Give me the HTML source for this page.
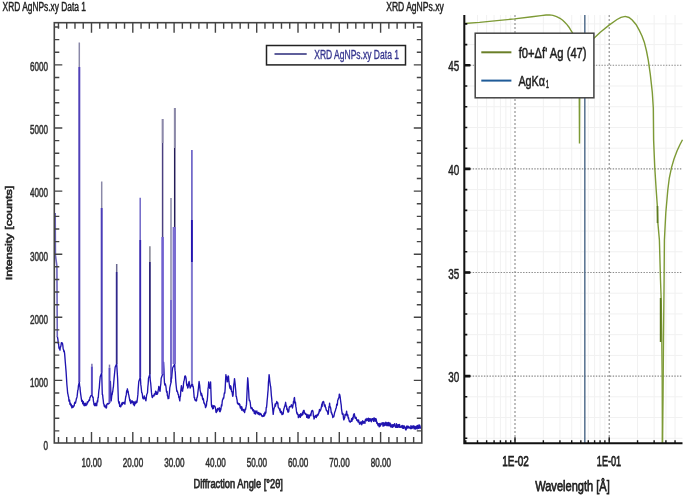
<!DOCTYPE html>
<html><head><meta charset="utf-8"><style>
html,body{margin:0;padding:0;background:#fff;width:685px;height:497px;overflow:hidden}
svg{display:block;will-change:transform;filter:blur(0.45px)}
text{font-family:"Liberation Sans",sans-serif}
</style></head><body>
<svg width="685" height="497" viewBox="0 0 685 497">
<rect width="685" height="497" fill="#fff"/>
<path d="M57.30,336.40 L57.62,337.96 L57.94,339.52 L58.26,343.78 L58.58,343.73 L58.90,347.70 L59.27,348.64 L59.63,348.76 L60.00,350.10 L60.33,346.73 L60.67,346.93 L61.00,345.30 L61.37,342.65 L61.73,343.43 L62.10,342.90 L62.47,343.31 L62.83,345.53 L63.20,349.30 L63.53,349.53 L63.87,351.67 L64.20,350.90 L64.57,353.16 L64.93,357.33 L65.30,362.20 L66.10,371.90 L66.90,384.80 L67.27,388.51 L67.63,392.99 L68.00,394.40 L68.33,396.33 L68.65,397.24 L68.97,401.18 L69.30,400.90 L69.62,400.05 L69.94,404.25 L70.26,402.94 L70.58,403.32 L70.90,405.70 L71.22,404.49 L71.54,405.57 L71.86,407.92 L72.18,405.70 L72.50,407.30 L72.84,407.31 L73.18,407.22 L73.52,405.83 L73.86,406.21 L74.20,405.70 L74.52,403.15 L74.84,402.34 L75.16,402.12 L75.48,403.22 L75.80,401.70 L76.12,400.09 L76.45,398.31 L76.77,398.07 L77.10,396.40 L77.42,393.61 L77.75,390.40 L78.08,389.78 L78.40,386.00 L79.30,382.00 L79.63,385.86 L79.97,387.11 L80.30,391.20 L80.67,394.16 L81.03,396.63 L81.40,399.20 L81.72,401.36 L82.04,401.44 L82.36,400.33 L82.68,403.76 L83.00,402.50 L83.32,401.61 L83.64,403.45 L83.96,405.45 L84.28,403.67 L84.60,405.70 L84.92,405.34 L85.24,403.22 L85.56,405.41 L85.88,405.48 L86.20,404.10 L86.54,403.93 L86.89,404.69 L87.23,401.98 L87.57,403.05 L87.91,402.19 L88.26,401.68 L88.60,400.90 L88.93,399.91 L89.27,400.63 L89.60,400.23 L89.93,397.53 L90.27,397.47 L90.60,396.00 L91.90,395.03 L92.80,397.60 L93.10,397.14 L93.40,401.01 L93.70,402.09 L94.00,404.77 L94.30,404.10 L94.60,405.59 L94.90,403.64 L95.20,404.24 L95.50,405.57 L95.80,403.19 L96.10,405.15 L96.40,404.17 L96.70,405.70 L97.02,402.55 L97.34,400.70 L97.66,401.91 L97.98,397.74 L98.30,397.60 L98.62,392.97 L98.95,389.91 L99.27,388.21 L99.60,383.10 L100.20,376.70 L101.70,372.70 L102.30,394.40 L102.62,394.66 L102.94,398.08 L103.26,400.42 L103.58,403.69 L103.90,404.10 L104.24,406.02 L104.58,406.84 L104.92,405.13 L105.26,406.32 L105.60,407.30 L105.90,406.34 L106.20,408.04 L106.50,407.93 L106.80,404.30 L107.10,404.00 L107.40,403.83 L107.70,403.43 L108.00,404.10 L109.50,402.92 L109.80,395.72 L110.10,388.99 L110.40,381.50 L111.20,400.90 L111.52,398.01 L111.84,395.04 L112.16,394.76 L112.48,392.62 L112.80,391.20 L113.12,388.25 L113.44,386.57 L113.76,382.30 L114.08,378.38 L114.40,375.10 L115.20,367.00 L116.70,363.91 L117.60,378.30 L118.40,400.90 L118.72,402.33 L119.04,403.52 L119.36,402.00 L119.68,406.34 L120.00,405.70 L120.31,406.62 L120.62,406.80 L120.94,406.29 L121.25,404.47 L121.56,404.30 L121.88,402.91 L122.19,404.84 L122.50,404.10 L122.80,402.35 L123.10,402.37 L123.40,402.94 L123.70,402.75 L124.00,403.46 L124.30,402.31 L124.60,402.10 L124.90,404.10 L125.25,400.28 L125.60,397.66 L125.95,396.28 L126.30,394.40 L126.67,390.64 L127.03,392.16 L127.40,388.80 L127.77,391.12 L128.13,391.13 L128.50,394.40 L128.82,395.03 L129.15,397.04 L129.48,398.73 L129.80,400.90 L130.14,399.62 L130.49,402.75 L130.83,403.56 L131.17,401.68 L131.51,401.98 L131.86,400.61 L132.20,402.50 L132.51,401.11 L132.82,402.27 L133.14,402.16 L133.45,404.62 L133.76,402.15 L134.07,401.79 L134.39,405.70 L134.70,404.10 L135.02,403.95 L135.33,402.15 L135.65,403.47 L135.97,401.14 L136.28,402.88 L136.60,402.50 L136.93,402.39 L137.25,399.90 L137.57,397.21 L137.90,394.40 L138.20,389.14 L138.50,385.27 L138.80,381.50 L140.20,377.50 L140.50,379.19 L140.80,384.64 L141.10,386.71 L141.40,389.60 L141.72,392.72 L142.05,392.92 L142.38,394.49 L142.70,397.60 L143.02,398.53 L143.34,398.90 L143.66,398.05 L143.98,397.54 L144.30,396.00 L144.62,398.25 L144.94,398.92 L145.26,397.85 L145.58,399.99 L145.90,400.90 L146.22,398.70 L146.54,395.78 L146.86,394.15 L147.18,393.54 L147.50,392.80 L147.83,387.00 L148.17,383.90 L148.50,378.30 L149.90,374.34 L150.30,380.72 L150.70,383.24 L151.10,388.00 L151.43,392.15 L151.75,394.75 L152.07,397.02 L152.40,397.60 L152.72,396.74 L153.04,395.84 L153.36,395.55 L153.68,395.11 L154.00,396.00 L154.32,393.86 L154.64,394.58 L154.96,394.72 L155.28,393.52 L155.60,391.20 L155.92,391.76 L156.24,393.09 L156.56,394.32 L156.88,392.10 L157.20,394.40 L157.52,393.44 L157.84,392.84 L158.16,390.73 L158.48,389.00 L158.80,386.40 L159.12,387.51 L159.45,387.51 L159.78,391.16 L160.10,391.20 L160.47,386.23 L160.83,383.80 L161.20,378.30 L162.60,374.30 L162.93,372.15 L163.27,365.82 L163.60,362.20 L163.90,368.77 L164.20,377.92 L164.50,383.10 L164.82,384.98 L165.14,383.74 L165.46,384.55 L165.78,385.62 L166.10,388.00 L166.42,391.22 L166.74,392.43 L167.06,391.38 L167.38,395.71 L167.70,396.00 L168.07,398.72 L168.43,398.23 L168.80,398.40 L169.12,394.80 L169.45,392.59 L169.78,387.92 L170.10,386.40 L171.00,382.40 L171.32,377.58 L171.64,378.52 L171.96,374.36 L172.28,370.99 L172.60,368.00 L174.70,364.00 L175.00,370.13 L175.30,372.54 L175.60,378.69 L175.90,382.90 L176.20,386.00 L176.80,391.20 L177.12,390.84 L177.45,391.81 L177.78,392.77 L178.10,394.40 L178.44,394.66 L178.78,397.35 L179.12,397.34 L179.46,399.28 L179.80,400.90 L180.12,396.36 L180.44,396.42 L180.76,391.14 L181.08,388.49 L181.40,385.60 L181.80,387.80 L182.20,390.95 L182.60,391.20 L182.90,388.46 L183.20,388.02 L183.50,383.93 L183.80,381.50 L184.12,380.51 L184.44,379.35 L184.76,376.21 L185.08,376.78 L185.40,375.90 L185.77,377.03 L186.13,378.72 L186.50,383.10 L186.82,385.52 L187.15,384.24 L187.48,386.67 L187.80,388.00 L188.12,387.28 L188.45,384.98 L188.78,382.43 L189.10,381.50 L189.47,383.74 L189.83,386.06 L190.20,388.00 L191.90,384.00 L192.20,385.94 L192.50,384.02 L192.80,386.64 L193.10,386.19 L193.40,388.00 L194.20,397.60 L194.54,397.37 L194.88,400.01 L195.22,399.61 L195.56,400.49 L195.90,400.90 L196.22,400.96 L196.54,400.59 L196.86,397.73 L197.18,397.43 L197.50,396.00 L197.82,393.12 L198.14,390.25 L198.46,388.07 L198.78,384.21 L199.10,381.50 L199.42,383.89 L199.74,385.93 L200.06,390.05 L200.38,391.34 L200.70,392.80 L201.00,394.87 L201.30,395.69 L201.60,393.52 L201.90,395.28 L202.20,395.60 L202.54,398.81 L202.88,399.84 L203.22,398.47 L203.56,399.85 L203.90,402.80 L204.22,403.53 L204.54,403.01 L204.86,404.64 L205.18,404.93 L205.50,407.60 L205.82,407.00 L206.14,406.18 L206.46,405.35 L206.78,401.10 L207.10,401.20 L207.42,398.20 L207.74,394.12 L208.06,388.19 L208.38,387.29 L208.70,381.90 L209.07,385.90 L209.43,385.05 L209.80,388.30 L210.60,381.90 L211.40,404.40 L211.72,406.85 L212.04,405.27 L212.36,406.27 L212.68,408.92 L213.00,407.60 L213.32,408.61 L213.64,405.61 L213.96,406.37 L214.28,406.38 L214.60,406.00 L214.94,406.66 L215.28,407.38 L215.62,409.17 L215.96,412.09 L216.30,412.50 L216.63,410.03 L216.97,411.62 L217.30,410.61 L217.63,408.37 L217.97,409.08 L218.30,409.20 L218.61,409.80 L218.93,409.45 L219.24,407.76 L219.55,411.54 L219.86,410.85 L220.18,411.69 L220.49,408.32 L220.80,410.00 L221.14,407.35 L221.49,404.73 L221.83,405.97 L222.17,402.22 L222.51,399.95 L222.86,399.40 L223.20,398.00 L223.52,398.67 L223.84,397.32 L224.16,394.09 L224.48,392.68 L224.80,393.10 L225.17,388.61 L225.53,381.05 L225.90,374.60 L226.22,377.23 L226.55,376.61 L226.88,378.31 L227.20,381.90 L227.52,381.23 L227.85,378.75 L228.18,375.91 L228.50,376.20 L228.87,381.45 L229.23,383.74 L229.60,386.70 L229.92,388.23 L230.24,385.67 L230.56,389.08 L230.88,386.25 L231.20,388.30 L231.52,391.37 L231.84,391.36 L232.16,392.52 L232.48,394.99 L232.80,396.40 L233.14,394.55 L233.48,388.35 L233.82,384.24 L234.16,382.27 L234.50,378.60 L234.82,381.11 L235.14,384.16 L235.46,387.93 L235.78,391.04 L236.10,396.40 L236.42,396.65 L236.74,398.53 L237.06,399.94 L237.38,403.20 L237.70,403.60 L238.00,403.16 L238.30,404.40 L238.60,403.51 L238.90,404.59 L239.20,403.67 L239.50,405.00 L239.80,404.46 L240.10,406.80 L240.40,408.03 L240.70,407.60 L241.00,406.46 L241.30,407.90 L241.60,410.04 L241.90,407.03 L242.20,410.18 L242.50,409.20 L242.80,409.14 L243.10,409.61 L243.40,411.18 L243.70,409.62 L244.00,410.29 L244.30,411.23 L244.60,412.62 L244.90,410.90 L245.22,408.97 L245.54,409.63 L245.86,407.83 L246.18,406.24 L246.50,404.40 L246.90,395.15 L247.30,386.06 L247.70,377.80 L248.02,381.07 L248.35,386.42 L248.68,391.23 L249.00,398.00 L249.32,400.56 L249.64,400.22 L249.96,401.45 L250.28,402.74 L250.60,406.00 L250.90,407.98 L251.20,408.71 L251.50,408.52 L251.80,407.58 L252.10,408.03 L252.40,408.85 L252.70,410.13 L253.00,410.90 L253.32,409.69 L253.64,411.00 L253.96,410.43 L254.28,413.39 L254.60,413.59 L254.92,412.05 L255.24,411.00 L255.56,414.04 L255.88,411.58 L256.20,412.50 L256.52,412.17 L256.84,410.98 L257.16,412.75 L257.48,413.36 L257.80,413.71 L258.12,412.74 L258.44,414.20 L258.76,412.44 L259.08,413.72 L259.40,414.90 L259.72,413.34 L260.04,414.66 L260.36,413.31 L260.68,413.31 L261.00,414.52 L261.32,414.31 L261.64,415.80 L261.96,415.66 L262.28,416.62 L262.60,415.70 L262.93,416.01 L263.26,415.92 L263.59,416.26 L263.92,413.98 L264.25,413.40 L264.58,415.72 L264.91,412.06 L265.24,414.04 L265.57,413.39 L265.90,412.50 L266.22,407.44 L266.53,407.37 L266.85,404.37 L267.17,400.08 L267.48,397.27 L267.80,393.10 L268.12,389.72 L268.45,382.41 L268.78,379.32 L269.10,374.60 L269.42,377.04 L269.74,380.78 L270.06,383.08 L270.38,385.59 L270.70,386.70 L271.02,390.58 L271.34,395.35 L271.66,398.05 L271.98,401.63 L272.30,404.40 L273.20,414.40 L273.52,411.72 L273.84,409.32 L274.16,408.13 L274.48,407.44 L274.80,406.40 L275.13,404.00 L275.47,406.11 L275.80,404.18 L276.13,403.64 L276.47,402.82 L276.80,401.50 L277.15,403.31 L277.50,403.62 L277.85,402.76 L278.20,407.02 L278.55,407.91 L278.90,408.00 L279.20,408.70 L279.50,409.51 L279.80,410.69 L280.10,409.01 L280.40,412.38 L280.70,411.12 L281.00,412.80 L281.32,411.42 L281.64,412.50 L281.96,414.68 L282.28,412.90 L282.60,414.40 L282.92,414.08 L283.24,413.74 L283.56,410.54 L283.88,408.81 L284.20,408.00 L284.55,406.49 L284.90,405.88 L285.25,404.79 L285.60,402.30 L285.93,404.59 L286.25,406.52 L286.57,406.08 L286.90,409.60 L287.22,408.67 L287.54,409.58 L287.86,412.01 L288.18,410.74 L288.50,412.00 L288.82,411.15 L289.14,407.81 L289.46,406.88 L289.78,406.60 L290.10,406.40 L290.43,406.69 L290.75,406.37 L291.07,405.90 L291.40,404.80 L291.77,405.03 L292.13,407.00 L292.50,408.00 L292.83,406.11 L293.17,404.37 L293.50,401.22 L293.83,402.57 L294.17,398.05 L294.50,397.50 L294.82,401.64 L295.15,403.70 L295.48,402.25 L295.80,406.40 L296.12,407.84 L296.44,410.88 L296.76,413.07 L297.08,412.60 L297.40,414.40 L297.72,413.95 L298.04,414.20 L298.36,417.62 L298.68,415.16 L299.00,416.80 L299.34,416.78 L299.69,414.68 L300.03,415.87 L300.37,417.24 L300.71,413.62 L301.06,416.02 L301.40,414.40 L301.70,414.13 L302.00,415.35 L302.30,414.31 L302.60,412.13 L302.90,414.49 L303.20,412.54 L303.50,410.40 L303.80,412.00 L304.12,410.49 L304.44,412.93 L304.76,413.24 L305.08,413.13 L305.40,414.40 L305.73,413.36 L306.07,414.58 L306.40,414.86 L306.73,417.36 L307.07,414.41 L307.40,416.80 L307.71,417.70 L308.02,417.96 L308.34,414.98 L308.65,418.11 L308.96,417.15 L309.27,417.81 L309.59,415.26 L309.90,416.00 L310.23,414.69 L310.56,413.97 L310.89,415.60 L311.21,413.16 L311.54,411.44 L311.87,410.91 L312.20,410.40 L312.50,410.64 L312.80,410.88 L313.10,412.24 L313.40,416.31 L313.70,415.26 L314.00,419.00 L314.30,418.40 L314.64,416.94 L314.99,416.55 L315.33,417.07 L315.67,415.33 L316.01,415.61 L316.36,417.48 L316.70,415.20 L317.00,416.34 L317.30,415.65 L317.60,414.52 L317.90,415.25 L318.20,414.96 L318.50,413.00 L318.80,413.28 L319.10,412.00 L319.45,409.53 L319.80,411.60 L320.15,409.80 L320.50,410.34 L320.85,409.24 L321.20,408.00 L321.52,406.06 L321.83,404.03 L322.15,406.46 L322.47,402.18 L322.78,402.47 L323.10,401.50 L323.44,401.53 L323.78,402.01 L324.12,404.44 L324.46,406.05 L324.80,404.80 L325.12,404.96 L325.44,407.66 L325.76,407.36 L326.08,409.51 L326.40,410.40 L326.72,410.78 L327.04,410.67 L327.36,411.45 L327.68,412.43 L328.00,414.40 L328.32,413.76 L328.64,409.87 L328.96,406.50 L329.28,406.99 L329.60,403.10 L329.92,407.03 L330.24,406.78 L330.56,407.48 L330.88,409.63 L331.20,412.80 L331.52,412.12 L331.84,414.09 L332.16,414.04 L332.48,415.60 L332.80,417.60 L333.12,415.83 L333.44,416.28 L333.76,416.75 L334.08,415.40 L334.40,413.60 L334.72,412.32 L335.03,411.39 L335.35,410.90 L335.67,409.37 L335.98,408.29 L336.30,408.00 L336.65,404.63 L337.00,403.88 L337.35,405.02 L337.70,400.04 L338.05,399.93 L338.40,398.30 L338.70,397.82 L339.00,397.75 L339.30,394.16 L339.60,394.30 L339.93,395.58 L340.25,397.69 L340.57,400.50 L340.90,403.10 L341.22,405.14 L341.54,409.44 L341.86,411.27 L342.18,413.63 L342.50,414.40 L342.82,413.45 L343.14,414.45 L343.46,418.12 L343.78,419.82 L344.10,419.20 L344.42,418.13 L344.74,417.63 L345.06,414.32 L345.38,414.93 L345.70,414.40 L346.00,415.01 L346.30,413.50 L346.60,411.10 L346.92,413.96 L347.24,415.87 L347.56,414.41 L347.88,415.30 L348.20,418.30 L348.50,417.32 L348.80,419.19 L349.10,420.23 L349.40,421.67 L349.70,421.19 L350.00,421.29 L350.30,422.16 L350.60,421.50 L350.92,421.01 L351.24,421.07 L351.56,418.70 L351.88,421.35 L352.20,419.90 L352.54,417.71 L352.88,419.34 L353.22,417.12 L353.56,414.64 L353.90,414.30 L354.22,413.61 L354.54,414.91 L354.86,417.25 L355.18,418.29 L355.50,418.30 L355.84,417.21 L356.19,417.50 L356.53,419.77 L356.87,420.46 L357.21,420.14 L357.56,419.94 L357.90,421.50 L358.22,422.06 L358.54,419.86 L358.86,421.19 L359.18,421.98 L359.50,424.14 L359.82,423.04 L360.14,424.16 L360.46,422.68 L360.78,421.88 L361.10,423.10 L361.42,422.01 L361.74,424.78 L362.06,423.68 L362.38,422.01 L362.70,420.79 L363.02,422.61 L363.34,423.24 L363.66,422.14 L363.98,421.41 L364.30,422.30 L364.62,422.65 L364.94,423.36 L365.26,420.25 L365.58,419.16 L365.90,420.05 L366.22,420.06 L366.54,420.79 L366.86,418.53 L367.18,420.61 L367.50,419.10 L367.81,420.16 L368.12,419.32 L368.44,418.22 L368.75,421.38 L369.06,418.85 L369.38,420.98 L369.69,418.72 L370.00,419.90 L370.34,418.79 L370.69,420.94 L371.03,419.08 L371.37,421.71 L371.71,419.88 L372.06,418.65 L372.40,419.90 L372.70,418.69 L373.00,419.37 L373.30,420.26 L373.60,421.30 L373.90,417.99 L374.20,418.87 L374.50,418.05 L374.80,419.10 L375.14,421.45 L375.49,418.58 L375.83,418.68 L376.17,419.17 L376.51,420.96 L376.86,423.44 L377.20,422.30 L377.50,424.25 L377.80,424.06 L378.10,425.53 L378.40,425.68 L378.70,423.68 L379.00,423.52 L379.30,426.93 L379.60,425.60 L379.91,426.46 L380.22,423.48 L380.52,425.89 L380.83,424.62 L381.14,424.48 L381.45,424.19 L381.75,423.42 L382.06,422.63 L382.37,423.61 L382.68,423.78 L382.98,426.07 L383.29,422.62 L383.60,424.00 L383.92,425.86 L384.23,422.83 L384.55,423.43 L384.86,425.29 L385.18,425.29 L385.49,423.73 L385.81,422.20 L386.12,423.89 L386.44,423.49 L386.75,425.68 L387.07,422.77 L387.38,423.46 L387.70,424.00 L388.01,425.71 L388.32,422.37 L388.62,424.01 L388.93,425.74 L389.24,425.68 L389.55,422.90 L389.85,423.00 L390.16,423.23 L390.47,426.79 L390.78,424.26 L391.08,426.34 L391.39,427.07 L391.70,425.60 L392.02,424.96 L392.34,424.69 L392.66,427.43 L392.98,426.07 L393.30,424.65 L393.62,426.47 L393.94,424.87 L394.26,424.70 L394.58,423.62 L394.90,425.60 L395.21,426.62 L395.51,427.27 L395.82,426.14 L396.12,427.37 L396.43,423.70 L396.74,424.54 L397.04,425.50 L397.35,427.43 L397.66,427.42 L397.96,425.15 L398.27,424.60 L398.57,425.32 L398.88,425.57 L399.19,427.31 L399.49,424.33 L399.80,425.60 L400.10,426.96 L400.40,426.85 L400.70,427.34 L401.00,427.29 L401.30,426.78 L401.60,425.81 L401.90,425.93 L402.20,426.25 L402.50,428.08 L402.80,425.42 L403.10,426.04 L403.40,428.41 L403.70,426.54 L404.00,425.96 L404.30,425.99 L404.60,428.00 L404.92,428.16 L405.24,427.20 L405.56,429.76 L405.88,429.32 L406.20,429.68 L406.52,426.74 L406.84,425.96 L407.16,425.96 L407.48,427.51 L407.80,428.31 L408.12,427.20 L408.44,426.30 L408.76,426.97 L409.08,427.73 L409.40,427.20 L409.71,427.90 L410.02,428.19 L410.33,428.59 L410.64,427.86 L410.95,425.68 L411.26,428.56 L411.57,426.38 L411.88,427.47 L412.19,426.69 L412.50,428.15 L412.80,426.00 L413.11,426.19 L413.42,426.18 L413.73,425.81 L414.04,428.74 L414.35,427.51 L414.66,426.51 L414.97,426.78 L415.28,429.17 L415.59,427.23 L415.90,427.20 L416.20,426.08 L416.50,428.33 L416.80,427.66 L417.10,428.96 L417.40,425.36 L417.70,426.80 L418.00,428.13 L418.30,428.16 L418.60,428.41 L418.90,424.86 L419.20,425.82 L419.50,425.08 L419.80,425.31 L420.10,428.39 L420.40,426.78 L420.70,426.40" fill="none" stroke="#2014b0" stroke-width="1.35" stroke-linejoin="round"/>
<path d="M174.30,364.00V227.00" fill="none" stroke="#7a6cd0" stroke-width="3.4"/>
<path d="M174.70,227.00V108.00" fill="none" stroke="#241c58" stroke-width="1.5"/>
<path d="M174.70,148V108.00" fill="none" stroke="#8a88a8" stroke-width="1.5"/>
<path d="M162.60,374.30V237.00" fill="none" stroke="#7060d0" stroke-width="2.6"/>
<path d="M162.60,237.00V119.00" fill="none" stroke="#4a4080" stroke-width="1.5"/>
<path d="M162.60,143V119.00" fill="none" stroke="#8a88a8" stroke-width="1.5"/>
<path d="M79.30,382.00V67.00" fill="none" stroke="#5040b8" stroke-width="2.0"/>
<path d="M79.30,67.00V42.50" fill="none" stroke="#8a88a8" stroke-width="1.5"/>
<path d="M91.90,395.03V366.38" fill="none" stroke="#5a4cc4" stroke-width="2.0"/>
<path d="M91.90,366.38V363.80" fill="none" stroke="#7a74b0" stroke-width="1.5"/>
<path d="M101.70,372.70V208.00" fill="none" stroke="#4a3cb8" stroke-width="2.0"/>
<path d="M101.70,208.00V181.50" fill="none" stroke="#8a88a8" stroke-width="1.5"/>
<path d="M109.50,402.92V367.76" fill="none" stroke="#5a4cc4" stroke-width="2.0"/>
<path d="M109.50,367.76V364.60" fill="none" stroke="#7a74b0" stroke-width="1.5"/>
<path d="M191.90,384.00V220.00" fill="none" stroke="#8078d0" stroke-width="2.0"/>
<path d="M191.90,220.00V150.00" fill="none" stroke="#5a50c0" stroke-width="1.5"/>
<path d="M191.90,220V262" fill="none" stroke="#2414b0" stroke-width="1.8"/>
<path d="M140.20,377.50V240.00" fill="none" stroke="#3828b0" stroke-width="1.9"/>
<path d="M140.20,240.00V197.70" fill="none" stroke="#7068c8" stroke-width="1.5"/>
<path d="M116.70,363.91V272.00" fill="none" stroke="#30288a" stroke-width="1.8"/>
<path d="M116.70,272.00V264.00" fill="none" stroke="#6a6890" stroke-width="1.5"/>
<path d="M149.90,374.34V262.00" fill="none" stroke="#302878" stroke-width="1.8"/>
<path d="M149.90,262.00V246.30" fill="none" stroke="#808090" stroke-width="1.5"/>
<path d="M171.00,382.40V300.00" fill="none" stroke="#3020b0" stroke-width="1.3"/>
<path d="M171.00,300.00V198.00" fill="none" stroke="#8a88a8" stroke-width="1.5"/>
<path d="M55.2,213L55.4,255L56.9,266L57.3,337" fill="none" stroke="#6c64bc" stroke-width="1.6"/>
<rect x="54.3" y="22.7" width="367.5" height="420.3" fill="none" stroke="#444" stroke-width="1.6"/>
<path d="M58.46,443.0v-6M58.46,22.7v6M66.72,443.0v-6M66.72,22.7v6M74.98,443.0v-6M74.98,22.7v6M83.24,443.0v-6M83.24,22.7v6M91.50,443.0v-11M91.50,22.7v10M99.76,443.0v-6M99.76,22.7v6M108.02,443.0v-6M108.02,22.7v6M116.28,443.0v-6M116.28,22.7v6M124.54,443.0v-6M124.54,22.7v6M132.80,443.0v-11M132.80,22.7v10M141.06,443.0v-6M141.06,22.7v6M149.32,443.0v-6M149.32,22.7v6M157.58,443.0v-6M157.58,22.7v6M165.84,443.0v-6M165.84,22.7v6M174.10,443.0v-11M174.10,22.7v10M182.36,443.0v-6M182.36,22.7v6M190.62,443.0v-6M190.62,22.7v6M198.88,443.0v-6M198.88,22.7v6M207.14,443.0v-6M207.14,22.7v6M215.40,443.0v-11M215.40,22.7v10M223.66,443.0v-6M223.66,22.7v6M231.92,443.0v-6M231.92,22.7v6M240.18,443.0v-6M240.18,22.7v6M248.44,443.0v-6M248.44,22.7v6M256.70,443.0v-11M256.70,22.7v10M264.96,443.0v-6M264.96,22.7v6M273.22,443.0v-6M273.22,22.7v6M281.48,443.0v-6M281.48,22.7v6M289.74,443.0v-6M289.74,22.7v6M298.00,443.0v-11M298.00,22.7v10M306.26,443.0v-6M306.26,22.7v6M314.52,443.0v-6M314.52,22.7v6M322.78,443.0v-6M322.78,22.7v6M331.04,443.0v-6M331.04,22.7v6M339.30,443.0v-11M339.30,22.7v10M347.56,443.0v-6M347.56,22.7v6M355.82,443.0v-6M355.82,22.7v6M364.08,443.0v-6M364.08,22.7v6M372.34,443.0v-6M372.34,22.7v6M380.60,443.0v-11M380.60,22.7v10M388.86,443.0v-6M388.86,22.7v6M397.12,443.0v-6M397.12,22.7v6M405.38,443.0v-6M405.38,22.7v6M413.64,443.0v-6M413.64,22.7v6M54.3,430.88h5M421.8,430.88h-5M54.3,418.26h5M421.8,418.26h-5M54.3,405.64h5M421.8,405.64h-5M54.3,393.02h5M421.8,393.02h-5M54.3,380.40h8M421.8,380.40h-8M54.3,367.78h5M421.8,367.78h-5M54.3,355.16h5M421.8,355.16h-5M54.3,342.54h5M421.8,342.54h-5M54.3,329.92h5M421.8,329.92h-5M54.3,317.30h8M421.8,317.30h-8M54.3,304.68h5M421.8,304.68h-5M54.3,292.06h5M421.8,292.06h-5M54.3,279.44h5M421.8,279.44h-5M54.3,266.82h5M421.8,266.82h-5M54.3,254.20h8M421.8,254.20h-8M54.3,241.58h5M421.8,241.58h-5M54.3,228.96h5M421.8,228.96h-5M54.3,216.34h5M421.8,216.34h-5M54.3,203.72h5M421.8,203.72h-5M54.3,191.10h8M421.8,191.10h-8M54.3,178.48h5M421.8,178.48h-5M54.3,165.86h5M421.8,165.86h-5M54.3,153.24h5M421.8,153.24h-5M54.3,140.62h5M421.8,140.62h-5M54.3,128.00h8M421.8,128.00h-8M54.3,115.38h5M421.8,115.38h-5M54.3,102.76h5M421.8,102.76h-5M54.3,90.14h5M421.8,90.14h-5M54.3,77.52h5M421.8,77.52h-5M54.3,64.90h8M421.8,64.90h-8M54.3,52.28h5M421.8,52.28h-5M54.3,39.66h5M421.8,39.66h-5M54.3,27.04h5M421.8,27.04h-5" stroke="#444" stroke-width="1.4" fill="none"/>
<text x="48.0" y="449.8" font-size="13" fill="#303030" stroke="#303030" stroke-width="0.55" text-anchor="end" textLength="4.5" lengthAdjust="spacingAndGlyphs" >0</text>
<text x="48.0" y="386.7" font-size="13" fill="#303030" stroke="#303030" stroke-width="0.55" text-anchor="end" textLength="18.0" lengthAdjust="spacingAndGlyphs" >1000</text>
<text x="48.0" y="323.6" font-size="13" fill="#303030" stroke="#303030" stroke-width="0.55" text-anchor="end" textLength="18.0" lengthAdjust="spacingAndGlyphs" >2000</text>
<text x="48.0" y="260.5" font-size="13" fill="#303030" stroke="#303030" stroke-width="0.55" text-anchor="end" textLength="18.0" lengthAdjust="spacingAndGlyphs" >3000</text>
<text x="48.0" y="197.4" font-size="13" fill="#303030" stroke="#303030" stroke-width="0.55" text-anchor="end" textLength="18.0" lengthAdjust="spacingAndGlyphs" >4000</text>
<text x="48.0" y="134.3" font-size="13" fill="#303030" stroke="#303030" stroke-width="0.55" text-anchor="end" textLength="18.0" lengthAdjust="spacingAndGlyphs" >5000</text>
<text x="48.0" y="71.2" font-size="13" fill="#303030" stroke="#303030" stroke-width="0.55" text-anchor="end" textLength="18.0" lengthAdjust="spacingAndGlyphs" >6000</text>
<text x="91.7" y="467.3" font-size="13" fill="#303030" stroke="#303030" stroke-width="0.55" text-anchor="middle" textLength="20.3" lengthAdjust="spacingAndGlyphs" >10.00</text>
<text x="133.0" y="467.3" font-size="13" fill="#303030" stroke="#303030" stroke-width="0.55" text-anchor="middle" textLength="20.3" lengthAdjust="spacingAndGlyphs" >20.00</text>
<text x="174.3" y="467.3" font-size="13" fill="#303030" stroke="#303030" stroke-width="0.55" text-anchor="middle" textLength="20.3" lengthAdjust="spacingAndGlyphs" >30.00</text>
<text x="215.6" y="467.3" font-size="13" fill="#303030" stroke="#303030" stroke-width="0.55" text-anchor="middle" textLength="20.3" lengthAdjust="spacingAndGlyphs" >40.00</text>
<text x="256.9" y="467.3" font-size="13" fill="#303030" stroke="#303030" stroke-width="0.55" text-anchor="middle" textLength="20.3" lengthAdjust="spacingAndGlyphs" >50.00</text>
<text x="298.2" y="467.3" font-size="13" fill="#303030" stroke="#303030" stroke-width="0.55" text-anchor="middle" textLength="20.3" lengthAdjust="spacingAndGlyphs" >60.00</text>
<text x="339.5" y="467.3" font-size="13" fill="#303030" stroke="#303030" stroke-width="0.55" text-anchor="middle" textLength="20.3" lengthAdjust="spacingAndGlyphs" >70.00</text>
<text x="380.8" y="467.3" font-size="13" fill="#303030" stroke="#303030" stroke-width="0.55" text-anchor="middle" textLength="20.3" lengthAdjust="spacingAndGlyphs" >80.00</text>
<text x="2.6" y="10.9" font-size="12" fill="#222" stroke="#222" stroke-width="0.45" text-anchor="start" textLength="83.4" lengthAdjust="spacingAndGlyphs" >XRD AgNPs.xy Data 1</text>
<text x="193.5" y="488.0" font-size="13" fill="#2a2a2a" stroke="#2a2a2a" stroke-width="0.75" text-anchor="start" textLength="89.4" lengthAdjust="spacingAndGlyphs" >Diffraction Angle [°2θ]</text>
<text transform="translate(12.4,280.3) rotate(-90) scale(1,0.72)" font-size="13.5" fill="#2a2a2a" stroke="#2a2a2a" stroke-width="0.85" textLength="94.6" lengthAdjust="spacingAndGlyphs">Intensity [counts]</text>
<rect x="266.5" y="45.5" width="139" height="19.4" fill="#fff" stroke="#222" stroke-width="1.5"/>
<path d="M274.5,54h32.2" stroke="#2a2a7a" stroke-width="1.4"/>
<text x="314.2" y="59.0" font-size="12.5" fill="#35358f" stroke="#35358f" stroke-width="0.35" text-anchor="start" textLength="84.8" lengthAdjust="spacingAndGlyphs" >XRD AgNPs.xy Data 1</text>
<path d="M465.74,15.0V443.2M477.51,15.0V443.2M486.64,15.0V443.2M494.10,15.0V443.2M500.41,15.0V443.2M505.87,15.0V443.2M510.69,15.0V443.2M543.36,15.0V443.2M559.94,15.0V443.2M571.71,15.0V443.2M580.84,15.0V443.2M588.30,15.0V443.2M594.61,15.0V443.2M600.07,15.0V443.2M604.89,15.0V443.2M637.56,15.0V443.2M654.14,15.0V443.2M665.91,15.0V443.2M675.04,15.0V443.2M464.3,438.26H682.5M464.3,417.54H682.5M464.3,396.82H682.5M464.3,355.38H682.5M464.3,334.66H682.5M464.3,313.94H682.5M464.3,293.22H682.5M464.3,251.78H682.5M464.3,231.06H682.5M464.3,210.34H682.5M464.3,189.62H682.5M464.3,148.18H682.5M464.3,127.46H682.5M464.3,106.74H682.5M464.3,86.02H682.5M464.3,44.58H682.5M464.3,23.86H682.5" stroke="#f1f1f1" stroke-width="1" fill="none"/>
<path d="M515.00,15.0V443.2M609.20,15.0V443.2" stroke="#8a8a8a" stroke-width="1.1" stroke-dasharray="2,2" fill="none"/>
<path d="M464.3,376.10H682.5M464.3,272.50H682.5M464.3,168.90H682.5M464.3,65.30H682.5" stroke="#8a8a8a" stroke-width="1.1" stroke-dasharray="1.4,1.4" fill="none"/>
<path d="M584.8,15.0V443.2" stroke="#5f7894" stroke-width="1.6"/>
<path d="M464.3,23.5 L479.5,22.4 L497,20.6 L514.5,18.9 L532,16.8 L541,15.6 L546,15.0 L549.6,14.9 L553,15.4 L556.6,16.6 L560,18.3 L562.7,20.3 L565,22.5 L567,24.6 L569,27.2 L570.6,29.9 L572.3,32.5 L574,36.5 L576,44 L578,60 L579.2,80 L579.5,143.5 L579.8,60 L582,50 L586,45 L590,40.5 L594,38.2 L600,32.5 L609.1,25.1 L617,19.5 L621,17.3 L625.2,16.4 L629,17.5 L632.2,20 L636,24.5 L639.2,30.1 L642,36 L644.3,42.2 L646.5,51 L648.3,60.3 L650.3,74.3 L652.3,92.4 L653.3,108 L653.6,140 L654.8,168 L656.2,190 L657.4,207 L657.8,222 L659.4,240 L660.5,280 L661.2,300 L661.8,340 L662.2,380 L662.4,443" fill="none" stroke="#7d9a35" stroke-width="1.4"/>
<path d="M662.5,443 L663.0,400 L663.5,340 L664.1,280 L664.4,240 L665.8,212.7 L667.8,190 L669.3,178 L671.5,167.6 L674,159 L677.1,150.7 L680,144.5 L682.5,139.7" fill="none" stroke="#7d9a35" stroke-width="1.4"/>
<path d="M657.5,206V223M660.6,298V342" stroke="#5d7a20" stroke-width="1.6"/>
<path d="M464.3,15.0V443.2H682.5" stroke="#111" stroke-width="2" fill="none"/>
<path d="M464.3,438.26h3M464.3,417.54h3M464.3,396.82h3M464.3,376.10h6M464.3,355.38h3M464.3,334.66h3M464.3,313.94h3M464.3,293.22h3M464.3,272.50h6M464.3,251.78h3M464.3,231.06h3M464.3,210.34h3M464.3,189.62h3M464.3,168.90h6M464.3,148.18h3M464.3,127.46h3M464.3,106.74h3M464.3,86.02h3M464.3,65.30h6M464.3,44.58h3M464.3,23.86h3" stroke="#111" stroke-width="1.6" fill="none"/>
<path d="M464.3,376.10h6M464.3,272.50h6M464.3,168.90h6M464.3,65.30h6" stroke="#111" stroke-width="2.6" fill="none"/>
<path d="M465.74,443.2v-3M477.51,443.2v-3M486.64,443.2v-3M494.10,443.2v-3M500.41,443.2v-3M505.87,443.2v-3M510.69,443.2v-3M515.00,443.2v-6M543.36,443.2v-3M559.94,443.2v-3M571.71,443.2v-3M580.84,443.2v-3M588.30,443.2v-3M594.61,443.2v-3M600.07,443.2v-3M604.89,443.2v-3M609.20,443.2v-6M637.56,443.2v-3M654.14,443.2v-3M665.91,443.2v-3M675.04,443.2v-3" stroke="#111" stroke-width="1.4" fill="none"/>
<text x="459.2" y="382.1" font-size="15.5" fill="#1e1e1e" stroke="#1e1e1e" stroke-width="0.5" text-anchor="end" textLength="11" lengthAdjust="spacingAndGlyphs" >30</text>
<text x="459.2" y="278.5" font-size="15.5" fill="#1e1e1e" stroke="#1e1e1e" stroke-width="0.5" text-anchor="end" textLength="11" lengthAdjust="spacingAndGlyphs" >35</text>
<text x="459.2" y="174.9" font-size="15.5" fill="#1e1e1e" stroke="#1e1e1e" stroke-width="0.5" text-anchor="end" textLength="11" lengthAdjust="spacingAndGlyphs" >40</text>
<text x="459.2" y="71.3" font-size="15.5" fill="#1e1e1e" stroke="#1e1e1e" stroke-width="0.5" text-anchor="end" textLength="11" lengthAdjust="spacingAndGlyphs" >45</text>
<text x="502.2" y="466.0" font-size="15.5" fill="#1e1e1e" stroke="#1e1e1e" stroke-width="0.75" text-anchor="start" textLength="26.6" lengthAdjust="spacingAndGlyphs" >1E-02</text>
<text x="596.8" y="466.0" font-size="15.5" fill="#1e1e1e" stroke="#1e1e1e" stroke-width="0.75" text-anchor="start" textLength="24.4" lengthAdjust="spacingAndGlyphs" >1E-01</text>
<text x="535.2" y="491.0" font-size="15.5" fill="#1e1e1e" stroke="#1e1e1e" stroke-width="0.75" text-anchor="start" textLength="74.6" lengthAdjust="spacingAndGlyphs" >Wavelength [Å]</text>
<text x="386.2" y="10.9" font-size="12" fill="#222" stroke="#222" stroke-width="0.45" text-anchor="start" textLength="57.5" lengthAdjust="spacingAndGlyphs" >XRD AgNPs.xy</text>
<rect x="475.2" y="33.2" width="118.7" height="64.6" fill="#fff" stroke="#444" stroke-width="1.5"/>
<path d="M481.3,52.3H511.4" stroke="#6a7f28" stroke-width="2"/>
<path d="M481.3,80.6H511.4" stroke="#1f5b98" stroke-width="2"/>
<text x="518.7" y="57.6" font-size="14.5" fill="#1e1e1e" stroke="#1e1e1e" stroke-width="0.5" text-anchor="start" textLength="67.9" lengthAdjust="spacingAndGlyphs" >f0+Δf' Ag (47)</text>
<text x="518.4" y="86.4" font-size="15" fill="#1e1e1e" stroke="#1e1e1e" stroke-width="0.5" text-anchor="start" textLength="26.7" lengthAdjust="spacingAndGlyphs" >AgKα</text>
<text x="546.0" y="88.3" font-size="10" fill="#1e1e1e" stroke="#1e1e1e" stroke-width="0.6" text-anchor="start" textLength="2.8" lengthAdjust="spacingAndGlyphs" >1</text>
</svg>
</body></html>
